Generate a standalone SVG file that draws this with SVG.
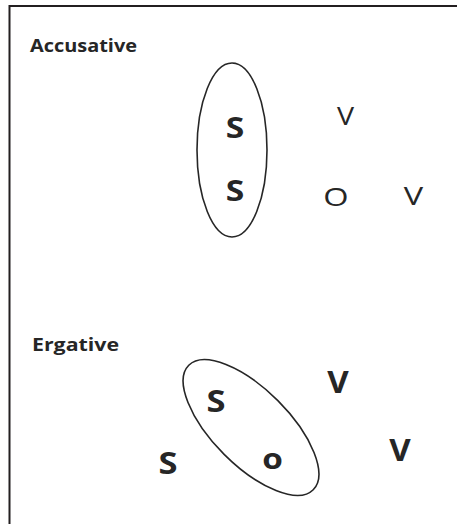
<svg xmlns="http://www.w3.org/2000/svg" width="458" height="524" viewBox="0 0 458 524">
<style>
text{font-family:"Open Sans","DejaVu Sans",sans-serif;fill:#262626}
.lbl{font-size:17.5px;font-weight:bold}
.b{font-weight:bold;text-anchor:middle}
.r{font-weight:normal;text-anchor:middle}
.frame{stroke:#231f20;stroke-width:2;fill:none}
.ell{fill:none;stroke:#262626;stroke-width:1.6}
</style>
<rect width="458" height="524" fill="#ffffff"/>
<path class="frame" d="M9.5,524 V6 H457"/>
<g id="accusative">
<text class="lbl" x="30" y="52" textLength="107" lengthAdjust="spacingAndGlyphs">Accusative</text>
<ellipse class="ell" cx="232" cy="150" rx="35" ry="87"/>
<g id="acc-S1"><text class="b" font-size="28" transform="translate(235,137.5) scale(1.2,1)">S</text></g>
<g id="acc-S2"><text class="b" font-size="28" transform="translate(235,200.5) scale(1.2,1)">S</text></g>
<g id="acc-V1"><text class="r" font-size="26" transform="translate(345.5,125) scale(1.1,1)">V</text></g>
<g id="acc-O"><text class="r" font-size="26" transform="translate(336,205.5) scale(1.25,1)">O</text></g>
<g id="acc-V2"><text class="r" font-size="26" transform="translate(413.5,205) scale(1.25,1)">V</text></g>
</g>
<g id="ergative">
<text class="lbl" x="32" y="350.5" textLength="87" lengthAdjust="spacingAndGlyphs">Ergative</text>
<ellipse class="ell" cx="251" cy="427.5" rx="88" ry="38" transform="rotate(45 251 427.5)"/>
<g id="erg-S1"><text class="b" font-size="30" transform="translate(216,412) scale(1.15,1)">S</text></g>
<g id="erg-o"><text class="b" font-size="29" transform="translate(272.5,468.5) scale(1.15,1)">o</text></g>
<g id="erg-S2"><text class="b" font-size="30" transform="translate(168,473.5) scale(1.15,1)">S</text></g>
<g id="erg-V1"><text class="b" font-size="30" transform="translate(338,393) scale(1.1,1)">V</text></g>
<g id="erg-V2"><text class="b" font-size="30" transform="translate(400,460.5) scale(1.1,1)">V</text></g>
</g>
<g id="connectors"/>
</svg>
